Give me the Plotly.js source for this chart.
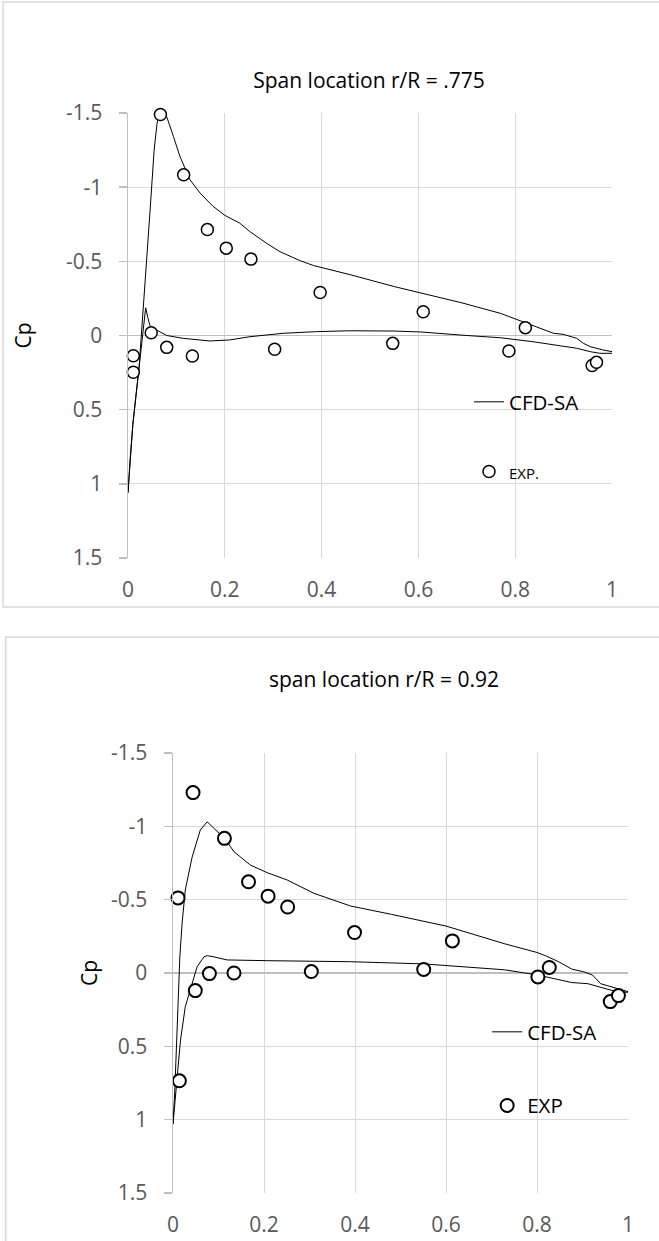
<!DOCTYPE html>
<html>
<head>
<meta charset="utf-8">
<script src="https://cdn.plot.ly/plotly-3.0.1.min.js"></script>
<style>
  html, body { margin: 0; padding: 0; background: #fff; }
  #c1 { position: absolute; left: 0; top: 0; width: 659px; height: 620px; }
  #c2 { position: absolute; left: 0; top: 620px; width: 659px; height: 621px; }
</style>
</head>
<body>
<div id="c1"></div>
<div id="c2"></div>
<script>
// ---------- shared ticks ----------
const xTicks = [0, 0.2, 0.4, 0.6, 0.8, 1];
const xTickText = ['0', '0.2', '0.4', '0.6', '0.8', '1'];
const yTicks = [-1.5, -1, -0.5, 0, 0.5, 1, 1.5];
const yTickText = ['-1.5', '-1', '-0.5', '0', '0.5', '1', '1.5'];

// ---------- chart 1: r/R = .775 ----------
const title1 = 'Span location r/R = .775';
const cfd1UpperX = [0, 0.004, 0.01, 0.016, 0.023, 0.03, 0.038, 0.046, 0.054, 0.06, 0.066, 0.072, 0.08, 0.094, 0.107, 0.128, 0.149, 0.176, 0.2, 0.231, 0.252, 0.287, 0.314, 0.355, 0.383, 0.459, 0.55, 0.604, 0.69, 0.769, 0.8, 0.85, 0.879, 0.899, 0.927, 0.941, 0.955, 0.982, 1.0];
const cfd1UpperY = [1.06, 0.85, 0.6, 0.42, 0.21, -0.1, -0.47, -0.86, -1.25, -1.43, -1.5, -1.5, -1.475, -1.34, -1.21, -1.05, -0.96, -0.87, -0.81, -0.757, -0.7, -0.62, -0.565, -0.505, -0.472, -0.41, -0.33, -0.29, -0.22, -0.15, -0.11, -0.05, -0.015, -0.008, 0.019, 0.053, 0.075, 0.098, 0.109];
const cfd1LowerX = [0, 0.004, 0.01, 0.016, 0.023, 0.03, 0.0365, 0.041, 0.045, 0.052, 0.063, 0.08, 0.114, 0.169, 0.21, 0.252, 0.321, 0.39, 0.459, 0.55, 0.604, 0.7, 0.769, 0.837, 0.886, 0.927, 0.955, 0.975, 1.0];
const cfd1LowerY = [1.06, 0.85, 0.6, 0.42, 0.21, 0.0, -0.187, -0.12, -0.07, -0.045, -0.03, 0.0, 0.019, 0.037, 0.03, 0.008, -0.015, -0.026, -0.032, -0.03, -0.024, 0.0, 0.015, 0.042, 0.064, 0.086, 0.109, 0.12, 0.12];
const exp1X = [0.011, 0.011, 0.048, 0.067, 0.080, 0.115, 0.133, 0.164, 0.203, 0.254, 0.303, 0.397, 0.547, 0.610, 0.787, 0.821, 0.959, 0.968];
const exp1Y = [0.136, 0.248, -0.019, -1.49, 0.08, -1.083, 0.138, -0.714, -0.589, -0.515, 0.093, -0.29, 0.053, -0.16, 0.104, -0.053, 0.202, 0.181];

// ---------- chart 2: r/R = 0.92 ----------
const title2 = 'span location r/R = 0.92';
const cfd2UpperX = [0, 0.004, 0.008, 0.011, 0.015, 0.02, 0.027, 0.042, 0.06, 0.075, 0.09, 0.113, 0.134, 0.17, 0.207, 0.251, 0.31, 0.39, 0.48, 0.6, 0.728, 0.8, 0.82, 0.848, 0.876, 0.903, 0.922, 0.94, 0.968, 1.0];
const cfd2UpperY = [1.03, 0.8, 0.57, 0.23, -0.11, -0.34, -0.566, -0.79, -0.975, -1.031, -0.986, -0.92, -0.827, -0.736, -0.684, -0.634, -0.543, -0.457, -0.4, -0.32, -0.2, -0.14, -0.116, -0.076, -0.027, -0.008, 0.014, 0.073, 0.1, 0.127];
const cfd2LowerX = [0, 0.006, 0.0165, 0.027, 0.038, 0.053, 0.068, 0.075, 0.09, 0.119, 0.207, 0.39, 0.551, 0.636, 0.728, 0.802, 0.848, 0.876, 0.912, 0.94, 0.968, 1.0];
const cfd2LowerY = [1.03, 0.8, 0.457, 0.23, 0.116, -0.043, -0.11, -0.118, -0.11, -0.089, -0.084, -0.077, -0.062, -0.043, -0.022, 0.014, 0.046, 0.065, 0.073, 0.1, 0.122, 0.132];
const exp2X = [0.011, 0.014, 0.044, 0.049, 0.080, 0.113, 0.134, 0.166, 0.209, 0.252, 0.304, 0.399, 0.551, 0.614, 0.802, 0.827, 0.961, 0.979];
const exp2Y = [-0.512, 0.735, -1.23, 0.12, 0.004, -0.918, 0.0, -0.622, -0.524, -0.45, -0.01, -0.276, -0.024, -0.219, 0.027, -0.038, 0.195, 0.154];

const FONT = 'Open Sans, Noto Sans, sans-serif';
const TICK_SIZE = 21;

function loop(ux, uy, lx, ly) {
  // trailing edge (upper) -> leading edge -> trailing edge (lower)
  const x = ux.slice().reverse().concat(lx.slice(1));
  const y = uy.slice().reverse().concat(ly.slice(1));
  return {x, y};
}

function makeChart(div, cfg) {
  const l = loop(cfg.ux, cfg.uy, cfg.lx, cfg.ly);
  const traces = [
    {x: l.x, y: l.y, type: 'scatter', mode: 'lines', name: 'CFD-SA', cliponaxis: false,
     legendgroup: 'a', line: {color: '#000', width: 1}, hoverinfo: 'skip'},
    {x: cfg.ex, y: cfg.ey, type: 'scatter', mode: 'markers', name: cfg.expName, cliponaxis: false,
     legendgroup: 'b',
     marker: {symbol: 'circle', size: cfg.msize, color: '#fff', line: {color: '#000', width: cfg.mlw}}}
  ];
  const m = cfg.margin;
  const pw = cfg.W - m.l - m.r, ph = cfg.H - m.t - m.b;
  const layout = {
    width: cfg.W, height: cfg.H,
    margin: m,
    paper_bgcolor: '#fff', plot_bgcolor: '#fff',
    font: {family: FONT, color: '#000'},
    title: {text: cfg.title, font: {family: FONT, size: 21, color: '#000'},
            xref: 'container', yref: 'container', x: cfg.titleX / cfg.W, xanchor: 'center',
            y: 1 - cfg.titleY / cfg.H, yanchor: 'middle'},
    showlegend: true,
    legend: {x: (cfg.legL - m.l) / pw, y: (cfg.H - m.b - cfg.legT) / ph, xanchor: 'left', yanchor: 'top',
             bgcolor: 'rgba(0,0,0,0)', borderwidth: 0, traceorder: 'grouped',
             tracegroupgap: cfg.gap, font: {family: FONT, size: 20.5, color: '#000'}},
    xaxis: {range: [0, 1], tickvals: xTicks, ticktext: xTickText,
            showgrid: true, gridcolor: '#d9d9d9', gridwidth: 1, zeroline: false, showline: false,
            ticks: '', ticklabelstandoff: cfg.xStand,
            tickfont: {family: FONT, size: TICK_SIZE, color: '#595959'}, fixedrange: true},
    yaxis: {range: [1.5, -1.5], tickvals: yTicks, ticktext: yTickText,
            showgrid: true, gridcolor: '#d9d9d9', gridwidth: 1,
            zeroline: true, zerolinecolor: '#bfbfbf', zerolinewidth: 1.5,
            showline: true, linecolor: '#bfbfbf', linewidth: 1.5,
            ticks: 'outside', ticklen: 8, tickwidth: 1.5, tickcolor: '#bfbfbf',
            ticklabelstandoff: 12,
            tickfont: {family: FONT, size: TICK_SIZE, color: '#595959'},
            title: {text: 'Cp', font: {family: FONT, size: 21, color: '#000'}, standoff: cfg.cpStand},
            fixedrange: true},
    shapes: [{type: 'rect', xref: 'paper', yref: 'paper',
              x0: (cfg.bL - m.l) / pw, x1: (cfg.W + 20 - m.l) / pw,
              y0: (cfg.H - m.b - cfg.bB) / ph, y1: (cfg.H - m.b - cfg.bT) / ph,
              line: {color: '#d9d9d9', width: 1.5}, fillcolor: 'rgba(0,0,0,0)', layer: 'below'}]
  };
  Plotly.newPlot(div, traces, layout, {staticPlot: true, displayModeBar: false});
}

makeChart('c1', {
  W: 659, H: 620, margin: {l: 128, r: 47, t: 113, b: 62},
  title: title1, titleX: 369, titleY: 81,
  ux: cfd1UpperX, uy: cfd1UpperY, lx: cfd1LowerX, ly: cfd1LowerY,
  ex: exp1X, ey: exp1Y, expName: '<span style="font-size:15px">EXP.</span>',
  msize: 12, mlw: 1.5,
  legL: 469, legT: 382, gap: 40,
  xStand: 17, cpStand: 28,
  bL: 3, bT: 2, bB: 607
});

makeChart('c2', {
  W: 659, H: 621, margin: {l: 172.5, r: 31, t: 133, b: 48},
  title: title2, titleX: 384, titleY: 60,
  ux: cfd2UpperX, uy: cfd2UpperY, lx: cfd2LowerX, ly: cfd2LowerY,
  ex: exp2X, ey: exp2Y, expName: 'EXP',
  msize: 13, mlw: 2,
  legL: 487, legT: 392, gap: 44,
  xStand: 17, cpStand: 7,
  bL: 5, bT: 17, bB: 700
});
</script>
</body>
</html>
